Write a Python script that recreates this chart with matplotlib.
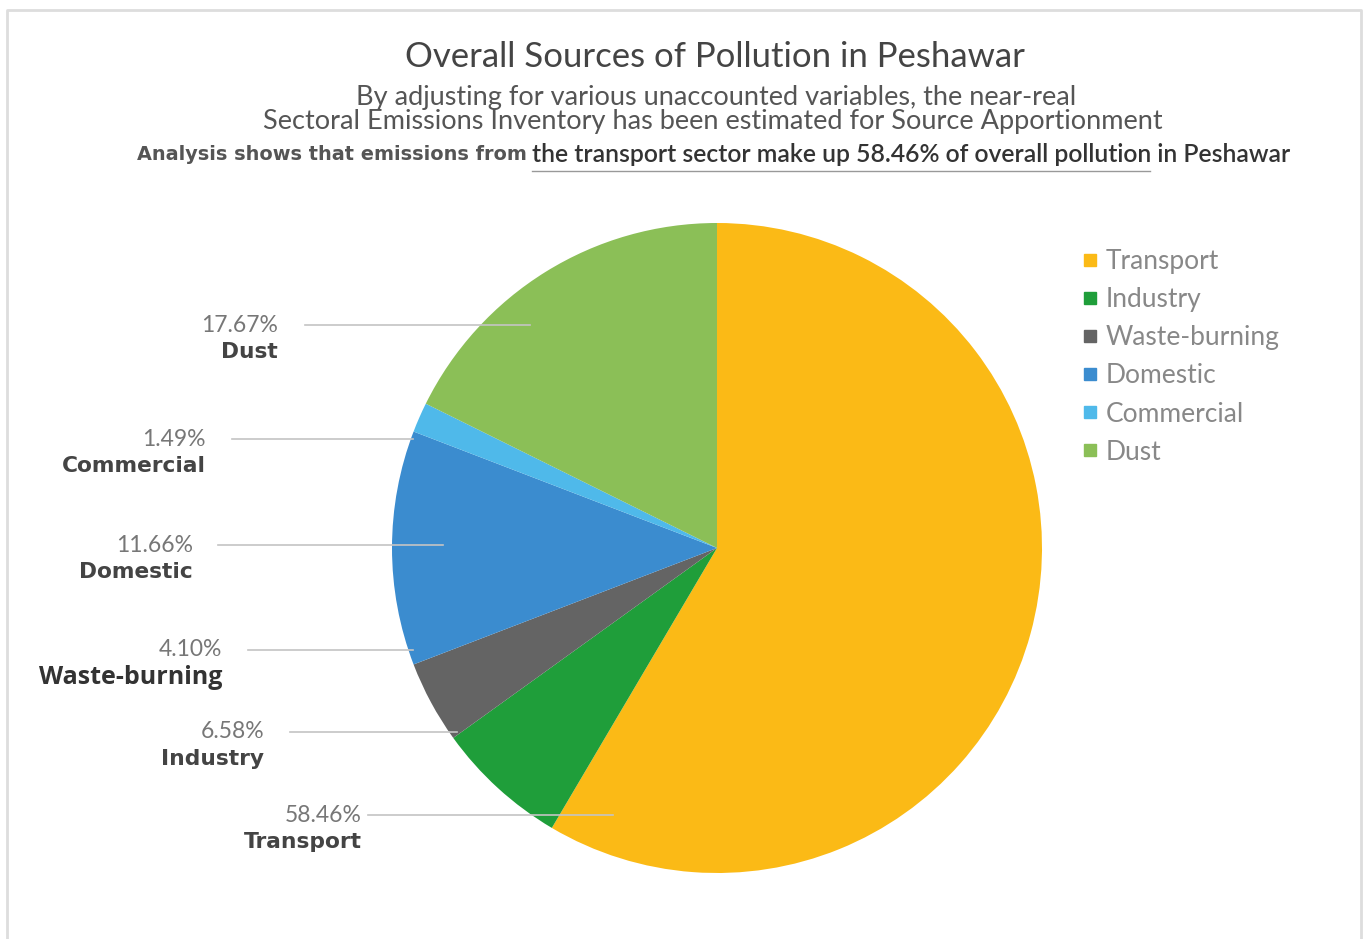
import matplotlib.pyplot as plt
from matplotlib.lines import Line2D

# data
sources = ['Transport', 'Industry', 'Waste-burning', 'Domestic', 'Commercial', 'Dust']
shares = [58.46, 6.58, 4.10, 11.66, 1.49, 17.67]
colors = ['#FBBA16', '#1F9E3A', '#646464', '#3B8CCF', '#4FB9EA', '#8BBF57']

title = 'Overall Sources of Pollution in Peshawar'
sub1 = 'By adjusting for various unaccounted variables, the near-real'
sub2 = 'Sectoral Emissions Inventory has been estimated for Source Apportionment'
sub3a = 'Analysis shows that emissions from'
sub3b = 'the transport sector make up 58.46% of overall pollution in Peshawar'

# label layout (pixel positions, y from top): text right edge, line start, line end, y
lab_x = [362, 264, 222, 193, 206, 278]
line_x0 = [368, 290, 248, 218, 232, 305]
line_x1 = [613, 457, 413, 443, 413, 530]
lab_y = [815, 732, 650, 545, 439, 325]

W, H = 1367, 939
fig = plt.figure(figsize=(W / 100, H / 100), dpi=100)
ax = fig.add_axes([0, 0, 1, 1])

def py(y):
    return H - y

wedges, _ = ax.pie(shares, colors=colors, startangle=90, counterclock=False,
                   center=(717, py(548)), radius=325, frame=True,
                   wedgeprops=dict(linewidth=0))
ax.set_xlim(0, W)
ax.set_ylim(0, H)
ax.set_aspect('equal')
ax.axis('off')

# frame around picture
ax.plot([7, 7, 1361, 1361], [0, py(10), py(10), 0], color='#dddddd', lw=2, zorder=0)

# titles
ax.text(715, py(57), title, ha='center', va='center', fontsize=25,
        family='Lato', color='#444444')
ax.text(716, py(97), sub1, ha='center', va='center', fontsize=19.5,
        family='Lato', color='#555555')
ax.text(713, py(122), sub2, ha='center', va='center', fontsize=19.5,
        family='Lato', color='#555555')
ax.text(527, py(155), sub3a, ha='right', va='center', fontsize=13.9,
        family='DejaVu Sans', weight='bold', color='#555555')
ax.text(532, py(155), sub3b, ha='left', va='center', fontsize=17.8,
        family='Lato', weight='semibold', color='#333333')
ax.plot([532, 1150], [py(171), py(171)], color='#999999', lw=1)

# data labels with leader lines
for i, name in enumerate(sources):
    y = lab_y[i]
    ax.plot([line_x0[i], line_x1[i]], [py(y), py(y)], color='#c4c4c4', lw=1.2, zorder=3)
    ax.text(lab_x[i], py(y), f'{shares[i]:.2f}%', ha='right', va='center',
            fontsize=16.5, family='Lato', color='#777777')
    if name == 'Waste-burning':
        ax.text(lab_x[i], py(y + 27), name, ha='right', va='center',
                fontsize=18, family='Open Sans', weight='bold', color='#333333')
    else:
        ax.text(lab_x[i], py(y + 27), name, ha='right', va='center',
                fontsize=15.7, family='DejaVu Sans', weight='bold', color='#444444')

# legend
handles = [Line2D([], [], marker='s', ls='', markersize=9, color=c) for c in colors]
leg = fig.legend(handles, sources, loc='upper left',
                 bbox_to_anchor=(1058 / W, 1 - 225 / H), frameon=False,
                 handlelength=0.6, handletextpad=0.3, labelspacing=0.5,
                 prop=dict(family='Lato', size=19))
for t in leg.get_texts():
    t.set_color('#888888')

plt.savefig('out.png', dpi=100)
